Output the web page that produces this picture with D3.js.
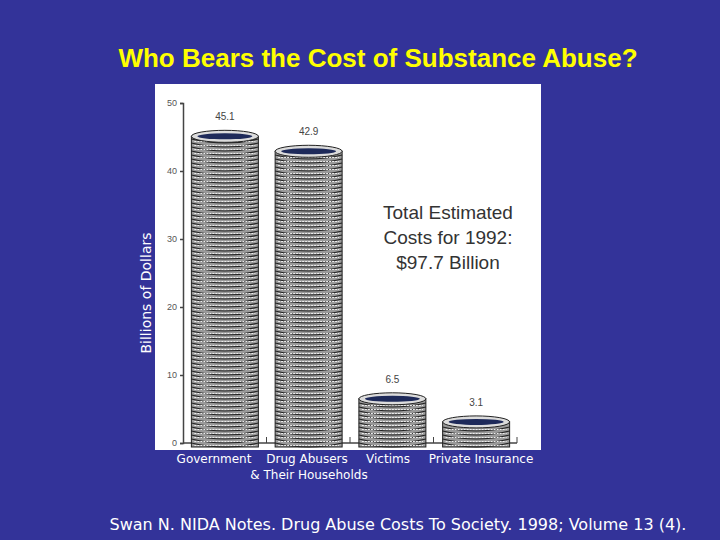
<!DOCTYPE html><html><head><meta charset="utf-8">
<script src="https://cdn.jsdelivr.net/npm/d3@7"></script>
<style>body{margin:0;background:#333399}</style></head><body>
<script>
const categories=["Government","Drug Abusers & Their Households","Victims","Private Insurance"];
const values=[45.1,42.9,6.5,3.1];
const valueLabels=["45.1","42.9","6.5","3.1"];
const yTicks=[0,10,20,30,40,50];

const svg=d3.select("body").append("svg").attr("width",720).attr("height",540);
svg.append("rect").attr("width",720).attr("height",540).attr("fill","#333399");
svg.append("text").attr("x",378).attr("y",67).attr("text-anchor","middle")
 .attr("font-family","Liberation Sans, Arial").attr("font-weight","bold").attr("font-size",26)
 .attr("fill","#ffff00").text("Who Bears the Cost of Substance Abuse?");
svg.append("rect").attr("x",155).attr("y",84).attr("width",386).attr("height",366).attr("fill","#fff");
svg.append("text").attr("transform","translate(151,293) rotate(-90)").attr("text-anchor","middle")
 .attr("font-family","Verdana, DejaVu Sans").attr("font-size",14).attr("fill","#fff").text("Billions of Dollars");

const y=d3.scaleLinear().domain([0,50]).range([443,103]);
const x=d3.scaleBand().domain(categories).range([183,518]).paddingInner(0.2).paddingOuter(0.1);
const ax=svg.append("g").attr("transform","translate(183,0)").call(d3.axisLeft(y).tickValues(yTicks).tickSize(3));
ax.selectAll("text").attr("font-family","Liberation Sans, Arial").attr("font-size",9).attr("fill","#555");
ax.selectAll("line,path").attr("stroke","#444").attr("stroke-width",1.5);
// bottom baseline with ticks between groups
const xb=d3.scaleLinear().domain([0,4]).range([183,517]);
svg.append("line").attr("x1",183).attr("x2",517).attr("y1",443).attr("y2",443).attr("stroke","#444").attr("stroke-width",1.5);
svg.selectAll(".bt").data([1,2,3,4]).join("line").attr("x1",d=>xb(d)).attr("x2",d=>xb(d)).attr("y1",437).attr("y2",443).attr("stroke","#444");

const ry=4;
categories.forEach((c,i)=>{
 const g=svg.append("g");const x0=x(c),w=x.bandwidth(),top=y(values[i]);
 g.append("rect").attr("x",x0).attr("y",top).attr("width",w).attr("height",443-top+ry).attr("fill","#9a9a9a").attr("stroke","#222");
 const n=Math.round((443-top)/4);
 for(let k=0;k<n;k++){const yy=443-k*4;
  g.append("path").attr("d",`M${x0},${yy} Q${x0+w/2},${yy+2*ry} ${x0+w},${yy}`).attr("fill","none").attr("stroke","#222").attr("stroke-width",1.2);
  g.append("line").attr("x1",x0+3).attr("x2",x0+w-3).attr("y1",yy+ry-1.5).attr("y2",yy+ry-1.5).attr("stroke","#eee").attr("stroke-dasharray","2,1").attr("stroke-width",1);}
 g.append("ellipse").attr("cx",x0+w/2).attr("cy",top).attr("rx",w/2).attr("ry",ry+2).attr("fill","#dcdcdc").attr("stroke","#222");
 g.append("ellipse").attr("cx",x0+w/2).attr("cy",top).attr("rx",w/2-6).attr("ry",ry-1).attr("fill","#1e2a5a");
 svg.append("text").attr("x",x0+w/2).attr("y",top-16).attr("text-anchor","middle").attr("font-family","Liberation Sans, Arial").attr("font-size",10).attr("fill","#444").text(valueLabels[i]);
});
const tt=svg.append("text").attr("font-family","Liberation Sans, Arial").attr("font-size",19).attr("fill","#333").attr("text-anchor","middle");
["Total Estimated","Costs for 1992:","$97.7 Billion"].forEach((t,i)=>tt.append("tspan").attr("x",448).attr("y",219+i*25).text(t));

const lf="Verdana, DejaVu Sans";
[["Government",214,463],["Drug Abusers",307,463],["Victims",388,463],["Private Insurance",481,463],["& Their Households",309,479]].forEach(d=>
 svg.append("text").attr("x",d[1]).attr("y",d[2]).attr("text-anchor","middle").attr("font-family",lf).attr("font-size",12).attr("fill","#fff").text(d[0]));
svg.append("text").attr("x",398).attr("y",530).attr("text-anchor","middle").attr("font-family",lf).attr("font-size",16).attr("fill","#fff")
 .text("Swan N. NIDA Notes. Drug Abuse Costs To Society. 1998; Volume 13 (4).");
</script></body></html>
